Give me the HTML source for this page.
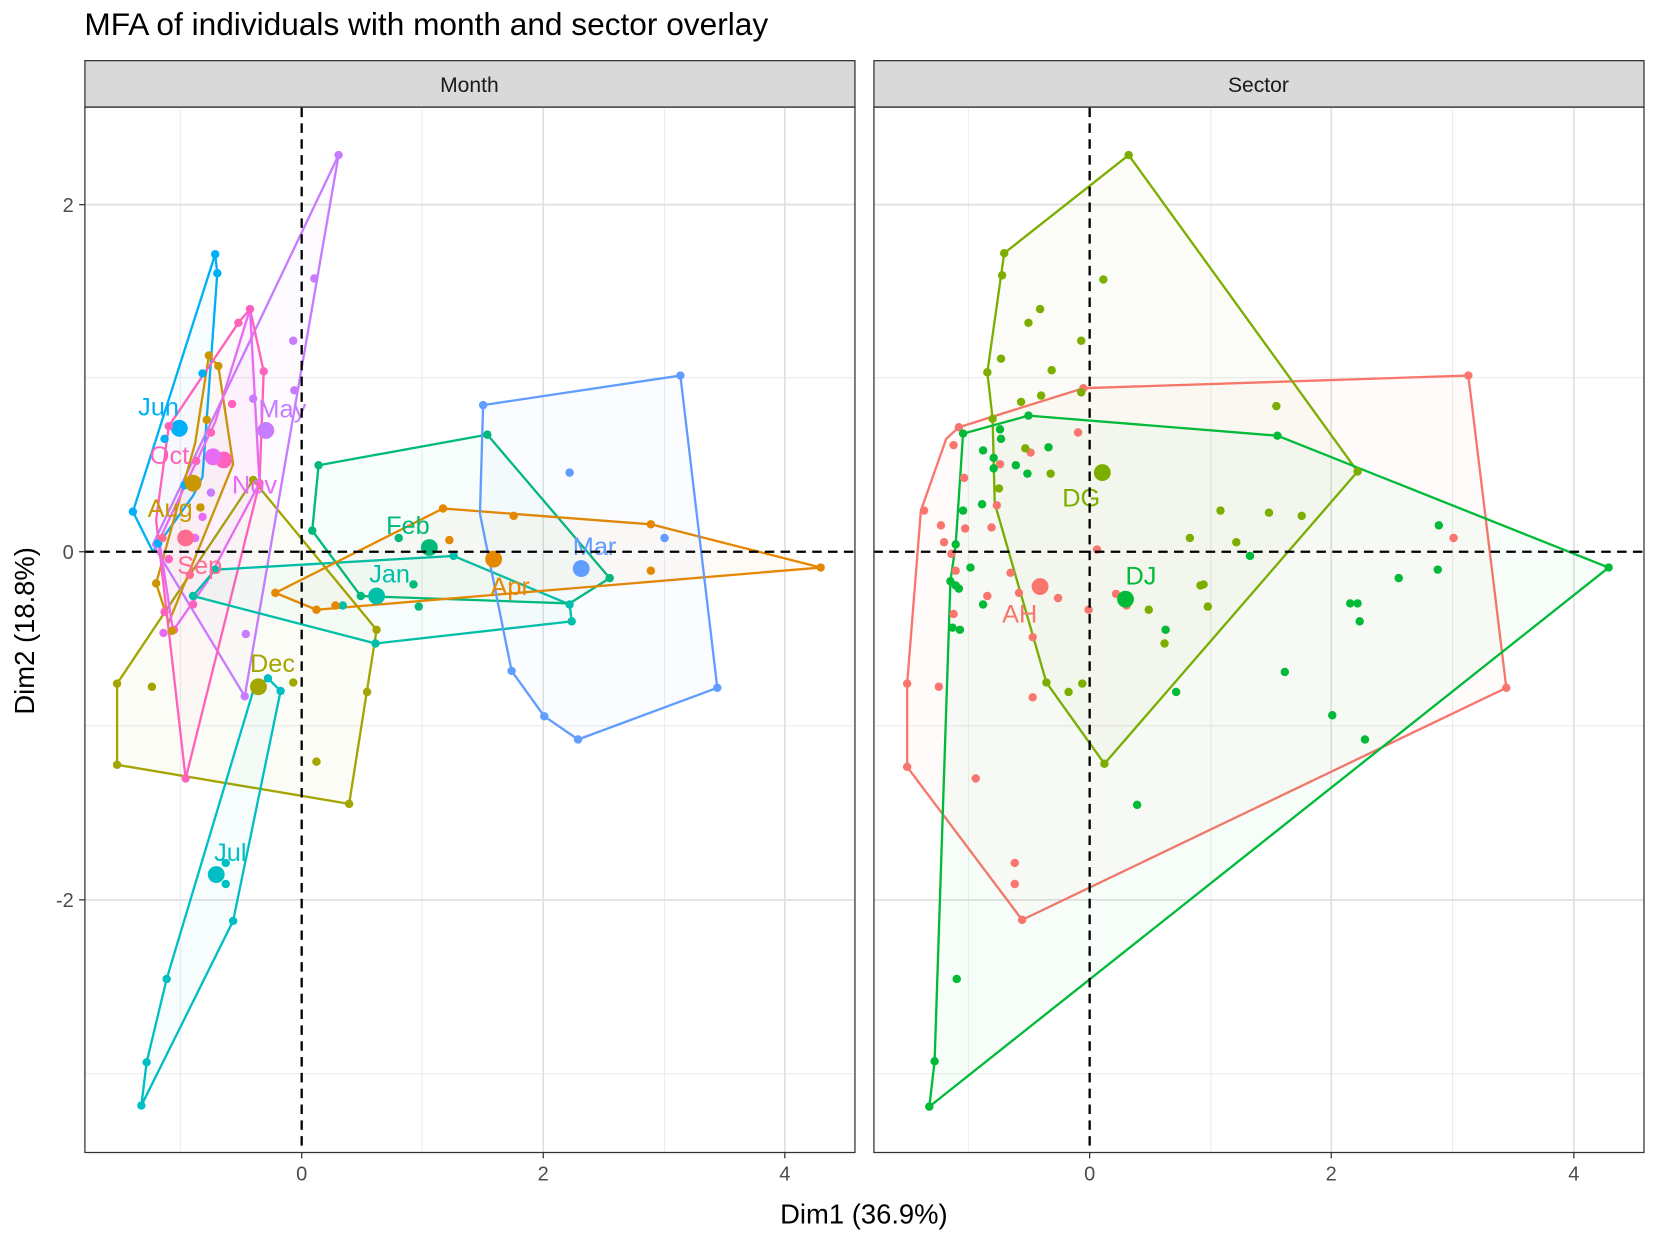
<!DOCTYPE html><html><head><meta charset="utf-8"><style>html,body{margin:0;padding:0;background:#fff}svg{display:block}text{font-family:"Liberation Sans",sans-serif}</style></head><body>
<svg width="1654" height="1237" viewBox="0 0 1568 1172.6" preserveAspectRatio="none" xmlns="http://www.w3.org/2000/svg">
<rect width="1568" height="1173" fill="#fff"/>
<text x="80" y="33" font-size="30" fill="#000">MFA of individuals with month and sector overlay</text>
<rect x="80.5" y="57.5" width="730" height="44" fill="#d9d9d9" stroke="#333" stroke-width="1.2"/>
<rect x="828.5" y="57.5" width="730" height="44" fill="#d9d9d9" stroke="#333" stroke-width="1.2"/>
<text x="445" y="87" font-size="20" text-anchor="middle" fill="#1a1a1a">Month</text>
<text x="1193" y="87" font-size="20" text-anchor="middle" fill="#1a1a1a">Sector</text>
<g stroke="#ebebeb" stroke-width="1">
<line x1="171" y1="102" x2="171" y2="1093"/><line x1="400" y1="102" x2="400" y2="1093"/><line x1="630" y1="102" x2="630" y2="1093"/>
<line x1="80" y1="358" x2="810" y2="358"/><line x1="80" y1="688" x2="810" y2="688"/><line x1="80" y1="1018" x2="810" y2="1018"/>
<line x1="918" y1="102" x2="918" y2="1093"/><line x1="1148" y1="102" x2="1148" y2="1093"/><line x1="1377" y1="102" x2="1377" y2="1093"/>
<line x1="828" y1="358" x2="1558" y2="358"/><line x1="828" y1="688" x2="1558" y2="688"/><line x1="828" y1="1018" x2="1558" y2="1018"/>
</g>
<g stroke="#e0e0e0" stroke-width="1.6">
<line x1="515" y1="102" x2="515" y2="1093"/><line x1="744" y1="102" x2="744" y2="1093"/>
<line x1="80" y1="194" x2="810" y2="194"/><line x1="80" y1="853" x2="810" y2="853"/>
<line x1="1262" y1="102" x2="1262" y2="1093"/><line x1="1492" y1="102" x2="1492" y2="1093"/>
<line x1="828" y1="194" x2="1558" y2="194"/><line x1="828" y1="853" x2="1558" y2="853"/>
</g>
<g stroke-width="2.2" fill-opacity="0.03" stroke-linejoin="round">
<polygon fill="#A3A500" stroke="#A3A500" points="111,648 111,725 331,762 357,597 240,455"/>
<polygon fill="#00BFC4" stroke="#00BFC4" points="254,643 266,655 221,873 134,1048 139,1007 158,928 240,655"/>
<polygon fill="#00B0F6" stroke="#00B0F6" points="204,241 206,259 192,452 183,470 145,523 126,485"/>
<polygon fill="#C77CFF" stroke="#C77CFF" points="321,147 232,660 145,516"/>
<polygon fill="#C99800" stroke="#C99800" points="198,337 207,347 221,440 160,590 148,553 185,420"/>
<polygon fill="#FF62BC" stroke="#FF62BC" points="226,306 237,293 250,352 246,458 176,738 148,493 160,404"/>
<polygon fill="#E76BF3" stroke="#E76BF3" points="237,293 204,400 151,512 164,598 196,552 246,458"/>
<polygon fill="#00BFA8" stroke="#00BFA8" points="183,565 204,540 430,527 540,573 542,589 356,610"/>
<polygon fill="#00B97A" stroke="#00B97A" points="302,441 462,412 578,548 540,572 342,565 296,503"/>
<polygon fill="#E58700" stroke="#E58700" points="261,562 420,482 617,497 778,538 300,578"/>
<polygon fill="#619CFF" stroke="#619CFF" points="458,384 645,356 680,652 548,701 516,679 485,636 455,487"/>
</g>
<g>
<g fill="#00B0F6"><circle cx="204" cy="241" r="4"/><circle cx="206" cy="259" r="4"/><circle cx="192" cy="354" r="4"/><circle cx="156" cy="416" r="4"/><circle cx="126" cy="485" r="4"/><circle cx="150" cy="515" r="4"/><circle cx="170" cy="406" r="8"/><circle cx="175" cy="460" r="4"/></g>
<g fill="#C77CFF"><circle cx="321" cy="147" r="4"/><circle cx="298" cy="264" r="4"/><circle cx="278" cy="323" r="4"/><circle cx="279" cy="370" r="4"/><circle cx="232" cy="660" r="4"/><circle cx="233" cy="601" r="4"/><circle cx="252" cy="408" r="8"/><circle cx="240" cy="378" r="4"/><circle cx="200" cy="467" r="4"/></g>
<g fill="#FF62BC"><circle cx="237" cy="293" r="4"/><circle cx="226" cy="306" r="4"/><circle cx="250" cy="352" r="4"/><circle cx="246" cy="458" r="4"/><circle cx="176" cy="738" r="4"/><circle cx="160" cy="404" r="4"/><circle cx="200" cy="410" r="4"/><circle cx="220" cy="383" r="4"/><circle cx="160" cy="530" r="4"/><circle cx="156" cy="580" r="4"/><circle cx="165" cy="597" r="4"/><circle cx="183" cy="573" r="4"/><circle cx="212" cy="436" r="8"/><circle cx="186" cy="437" r="4"/></g>
<g fill="#E76BF3"><circle cx="185" cy="510" r="4"/><circle cx="202" cy="433" r="8"/><circle cx="155" cy="600" r="4"/><circle cx="192" cy="490" r="4"/></g>
<g fill="#C99800"><circle cx="198" cy="337" r="4"/><circle cx="207" cy="347" r="4"/><circle cx="183" cy="458" r="8"/><circle cx="190" cy="481" r="4"/><circle cx="163" cy="598" r="4"/><circle cx="148" cy="553" r="4"/><circle cx="196" cy="398" r="4"/></g>
<g fill="#FF6C91"><circle cx="176" cy="510" r="8"/><circle cx="154" cy="510" r="4"/><circle cx="180" cy="545" r="4"/></g>
<g fill="#A3A500"><circle cx="111" cy="648" r="4"/><circle cx="111" cy="725" r="4"/><circle cx="331" cy="762" r="4"/><circle cx="357" cy="597" r="4"/><circle cx="348" cy="656" r="4"/><circle cx="300" cy="722" r="4"/><circle cx="278" cy="647" r="4"/><circle cx="144" cy="651" r="4"/><circle cx="245" cy="651" r="8"/><circle cx="240" cy="455" r="4"/></g>
<g fill="#00BFC4"><circle cx="254" cy="643" r="4"/><circle cx="266" cy="655" r="4"/><circle cx="221" cy="873" r="4"/><circle cx="134" cy="1048" r="4"/><circle cx="139" cy="1007" r="4"/><circle cx="158" cy="928" r="4"/><circle cx="205" cy="829" r="8"/><circle cx="214" cy="818" r="4"/><circle cx="214" cy="838" r="4"/></g>
<g fill="#00BFA8"><circle cx="183" cy="565" r="4"/><circle cx="204" cy="540" r="4"/><circle cx="430" cy="527" r="4"/><circle cx="540" cy="573" r="4"/><circle cx="542" cy="589" r="4"/><circle cx="356" cy="610" r="4"/><circle cx="357" cy="565" r="8"/><circle cx="325" cy="574" r="4"/></g>
<g fill="#00B97A"><circle cx="302" cy="441" r="4"/><circle cx="462" cy="412" r="4"/><circle cx="578" cy="548" r="4"/><circle cx="296" cy="503" r="4"/><circle cx="342" cy="565" r="4"/><circle cx="407" cy="519" r="8"/><circle cx="378" cy="510" r="4"/><circle cx="392" cy="554" r="4"/><circle cx="397" cy="575" r="4"/></g>
<g fill="#E58700"><circle cx="261" cy="562" r="4"/><circle cx="420" cy="482" r="4"/><circle cx="487" cy="489" r="4"/><circle cx="617" cy="497" r="4"/><circle cx="778" cy="538" r="4"/><circle cx="300" cy="578" r="4"/><circle cx="318" cy="574" r="4"/><circle cx="468" cy="530" r="8"/><circle cx="426" cy="512" r="4"/><circle cx="617" cy="541" r="4"/></g>
<g fill="#619CFF"><circle cx="458" cy="384" r="4"/><circle cx="645" cy="356" r="4"/><circle cx="680" cy="652" r="4"/><circle cx="548" cy="701" r="4"/><circle cx="516" cy="679" r="4"/><circle cx="485" cy="636" r="4"/><circle cx="551" cy="539" r="8"/><circle cx="540" cy="448" r="4"/><circle cx="630" cy="510" r="4"/></g>
</g>
<g font-size="24">
<text x="131" y="394" fill="#00B0F6">Jun</text>
<text x="245" y="396" fill="#C77CFF">May</text>
<text x="142" y="440" fill="#FF62BC">Oct</text>
<text x="220" y="468" fill="#E76BF3">Nov</text>
<text x="140" y="490" fill="#C99800">Aug</text>
<text x="168" y="544" fill="#FF6C91">Sep</text>
<text x="366" y="506" fill="#00B97A">Feb</text>
<text x="350" y="552" fill="#00BFA8">Jan</text>
<text x="465" y="564" fill="#E58700">Apr</text>
<text x="543" y="526" fill="#619CFF">Mar</text>
<text x="237" y="637" fill="#A3A500">Dec</text>
<text x="203" y="816" fill="#00BFC4">Jul</text>
</g>
<g stroke-width="2.2" fill-opacity="0.03" stroke-linejoin="round">
<polygon fill="#F8766D" stroke="#F8766D" points="909,405 1027,368 1392,356 1428,652 969,872 860,727 860,648 873,484 897,416"/>
<polygon fill="#7CAE00" stroke="#7CAE00" points="952,240 1070,147 1287,447 1047,724 992,647 943,477 941,397 936,353"/>
<polygon fill="#00BA38" stroke="#00BA38" points="913,411 975,394 1211,413 1525,538 881,1049 886,1006 901,551 906,516"/>
</g>
<g>
<g fill="#F8766D"><circle cx="1027" cy="368" r="4"/><circle cx="1392" cy="356" r="4"/><circle cx="1428" cy="652" r="4"/><circle cx="969" cy="872" r="4"/><circle cx="860" cy="727" r="4"/><circle cx="860" cy="648" r="4"/><circle cx="876" cy="484" r="4"/><circle cx="909" cy="405" r="4"/><circle cx="904" cy="422" r="4"/><circle cx="914" cy="453" r="4"/><circle cx="892" cy="498" r="4"/><circle cx="902" cy="525" r="4"/><circle cx="895" cy="514" r="4"/><circle cx="906" cy="541" r="4"/><circle cx="915" cy="501" r="4"/><circle cx="940" cy="500" r="4"/><circle cx="945" cy="479" r="4"/><circle cx="966" cy="562" r="4"/><circle cx="958" cy="543" r="4"/><circle cx="986" cy="556" r="8"/><circle cx="1003" cy="567" r="4"/><circle cx="979" cy="604" r="4"/><circle cx="936" cy="565" r="4"/><circle cx="904" cy="582" r="4"/><circle cx="890" cy="651" r="4"/><circle cx="925" cy="738" r="4"/><circle cx="962" cy="818" r="4"/><circle cx="962" cy="838" r="4"/><circle cx="979" cy="661" r="4"/><circle cx="1032" cy="578" r="4"/><circle cx="1047" cy="448" r="4"/><circle cx="1040" cy="521" r="4"/><circle cx="1058" cy="563" r="4"/><circle cx="1068" cy="574" r="4"/><circle cx="1378" cy="510" r="4"/><circle cx="1022" cy="410" r="4"/><circle cx="977" cy="429" r="4"/><circle cx="948" cy="440" r="4"/></g>
<g fill="#7CAE00"><circle cx="952" cy="240" r="4"/><circle cx="1070" cy="147" r="4"/><circle cx="1287" cy="447" r="4"/><circle cx="1047" cy="724" r="4"/><circle cx="992" cy="647" r="4"/><circle cx="941" cy="397" r="4"/><circle cx="936" cy="353" r="4"/><circle cx="950" cy="261" r="4"/><circle cx="986" cy="293" r="4"/><circle cx="975" cy="306" r="4"/><circle cx="1046" cy="265" r="4"/><circle cx="1025" cy="323" r="4"/><circle cx="997" cy="351" r="4"/><circle cx="949" cy="340" r="4"/><circle cx="968" cy="381" r="4"/><circle cx="987" cy="375" r="4"/><circle cx="1025" cy="372" r="4"/><circle cx="1045" cy="448" r="8"/><circle cx="1210" cy="385" r="4"/><circle cx="1026" cy="648" r="4"/><circle cx="1013" cy="656" r="4"/><circle cx="972" cy="425" r="4"/><circle cx="996" cy="449" r="4"/><circle cx="947" cy="463" r="4"/><circle cx="1157" cy="484" r="4"/><circle cx="1203" cy="486" r="4"/><circle cx="1234" cy="489" r="4"/><circle cx="1128" cy="510" r="4"/><circle cx="1172" cy="514" r="4"/><circle cx="1138" cy="555" r="4"/><circle cx="1141" cy="554" r="4"/><circle cx="1145" cy="575" r="4"/><circle cx="1089" cy="578" r="4"/><circle cx="1104" cy="610" r="4"/></g>
<g fill="#00BA38"><circle cx="913" cy="411" r="4"/><circle cx="975" cy="394" r="4"/><circle cx="1211" cy="413" r="4"/><circle cx="1525" cy="538" r="4"/><circle cx="881" cy="1049" r="4"/><circle cx="886" cy="1006" r="4"/><circle cx="901" cy="551" r="4"/><circle cx="906" cy="516" r="4"/><circle cx="948" cy="407" r="4"/><circle cx="949" cy="416" r="4"/><circle cx="932" cy="427" r="4"/><circle cx="942" cy="434" r="4"/><circle cx="942" cy="444" r="4"/><circle cx="931" cy="478" r="4"/><circle cx="913" cy="484" r="4"/><circle cx="963" cy="441" r="4"/><circle cx="974" cy="449" r="4"/><circle cx="994" cy="424" r="4"/><circle cx="920" cy="538" r="4"/><circle cx="906" cy="555" r="4"/><circle cx="909" cy="558" r="4"/><circle cx="932" cy="573" r="4"/><circle cx="903" cy="595" r="4"/><circle cx="910" cy="597" r="4"/><circle cx="1067" cy="568" r="8"/><circle cx="1105" cy="597" r="4"/><circle cx="1115" cy="656" r="4"/><circle cx="1185" cy="527" r="4"/><circle cx="1218" cy="637" r="4"/><circle cx="1263" cy="678" r="4"/><circle cx="1294" cy="701" r="4"/><circle cx="1280" cy="572" r="4"/><circle cx="1287" cy="572" r="4"/><circle cx="1289" cy="589" r="4"/><circle cx="1326" cy="548" r="4"/><circle cx="1363" cy="540" r="4"/><circle cx="1364" cy="498" r="4"/><circle cx="1078" cy="763" r="4"/><circle cx="907" cy="928" r="4"/></g>
</g>
<g font-size="24">
<text x="1007" y="480" fill="#7CAE00">DG</text>
<text x="1067" y="554" fill="#00BA38">DJ</text>
<text x="950" y="590" fill="#F8766D">AH</text>
</g>
<g stroke="#000" stroke-width="2.2" stroke-dasharray="9,6">
<line x1="286" y1="102" x2="286" y2="1093"/><line x1="80" y1="523" x2="810" y2="523"/>
<line x1="1033" y1="102" x2="1033" y2="1093"/><line x1="828" y1="523" x2="1558" y2="523"/>
</g>
<rect x="80.5" y="101.5" width="730" height="991" fill="none" stroke="#333" stroke-width="1.2"/>
<rect x="828.5" y="101.5" width="730" height="991" fill="none" stroke="#333" stroke-width="1.2"/>
<g stroke="#333" stroke-width="1.2">
<line x1="286" y1="1093" x2="286" y2="1098"/><line x1="515" y1="1093" x2="515" y2="1098"/><line x1="744" y1="1093" x2="744" y2="1098"/>
<line x1="1033" y1="1093" x2="1033" y2="1098"/><line x1="1262" y1="1093" x2="1262" y2="1098"/><line x1="1492" y1="1093" x2="1492" y2="1098"/>
<line x1="75" y1="194" x2="80" y2="194"/><line x1="75" y1="523" x2="80" y2="523"/><line x1="75" y1="853" x2="80" y2="853"/>
</g>
<g font-size="19" fill="#4d4d4d" text-anchor="middle">
<text x="286" y="1119">0</text><text x="515" y="1119">2</text><text x="744" y="1119">4</text>
<text x="1033" y="1119">0</text><text x="1262" y="1119">2</text><text x="1492" y="1119">4</text>
</g>
<g font-size="19" fill="#4d4d4d" text-anchor="end">
<text x="70" y="201">2</text><text x="70" y="530">0</text><text x="70" y="860">-2</text>
</g>
<text x="819" y="1160" font-size="26" text-anchor="middle" fill="#000">Dim1 (36.9%)</text>
<text transform="translate(32,598) rotate(-90)" font-size="26" text-anchor="middle" fill="#000">Dim2 (18.8%)</text>
</svg>
</body></html>
